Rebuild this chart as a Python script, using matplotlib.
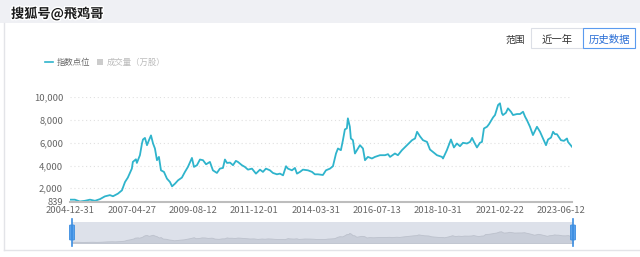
import matplotlib
matplotlib.use("Agg")
import matplotlib.pyplot as plt
import matplotlib.patheffects as pe
from matplotlib.patches import Rectangle, FancyBboxPatch
import pandas as pd

plt.rcParams['font.family'] = ['Noto Sans CJK SC', 'DejaVu Sans']

# index level
dates = [
    "2004-12-31", "2005-03-08", "2005-05-16", "2005-07-24", "2005-10-01", "2005-12-09",
    "2006-02-16", "2006-04-24", "2006-07-02", "2006-08-13", "2006-10-20", "2006-12-14",
    "2007-01-25", "2007-03-05", "2007-04-29", "2007-05-13", "2007-06-24", "2007-07-07",
    "2007-08-18", "2007-09-15", "2007-09-29", "2007-10-26", "2007-11-23", "2007-12-20",
    "2008-01-17", "2008-02-14", "2008-03-11", "2008-04-08", "2008-05-05", "2008-06-02",
    "2008-07-13", "2008-08-23", "2008-10-04", "2008-11-01", "2008-12-12", "2009-01-22",
    "2009-03-16", "2009-04-27", "2009-06-07", "2009-08-01", "2009-08-29", "2009-10-09",
    "2009-11-19", "2009-12-31", "2010-02-11", "2010-04-05", "2010-05-16", "2010-07-10",
    "2010-08-20", "2010-10-01", "2010-10-28", "2010-11-25", "2011-01-06", "2011-02-16",
    "2011-03-27", "2011-04-24", "2011-06-18", "2011-07-29", "2011-09-09", "2011-11-03",
    "2011-12-28", "2012-02-21", "2012-04-02", "2012-05-13", "2012-07-07", "2012-08-17",
    "2012-10-11", "2012-11-22", "2013-01-03", "2013-02-13", "2013-03-11", "2013-05-05",
    "2013-06-15", "2013-07-13", "2013-08-23", "2013-10-03", "2013-12-11", "2014-02-05",
    "2014-03-16", "2014-04-27", "2014-07-04", "2014-08-15", "2014-10-09", "2014-11-19",
    "2014-12-31", "2015-01-27", "2015-03-08", "2015-04-05", "2015-05-02", "2015-05-29",
    "2015-06-12", "2015-07-09", "2015-07-23", "2015-08-20", "2015-09-17", "2015-10-14",
    "2015-11-25", "2016-01-05", "2016-02-02", "2016-03-13", "2016-05-07", "2016-06-18",
    "2016-08-26", "2016-11-03", "2016-12-14", "2017-01-11", "2017-03-19", "2017-04-29",
    "2017-06-23", "2017-09-01", "2017-11-09", "2017-12-20", "2018-01-17", "2018-02-27",
    "2018-04-08", "2018-06-02", "2018-07-13", "2018-08-23", "2018-10-17", "2018-12-25",
    "2019-01-08", "2019-03-02", "2019-04-27", "2019-06-07", "2019-07-18", "2019-08-29",
    "2019-10-09", "2019-12-03", "2020-01-14", "2020-02-11", "2020-03-08", "2020-04-18",
    "2020-05-29", "2020-06-26", "2020-07-23", "2020-09-03", "2020-10-01", "2020-11-25",
    "2020-12-22", "2021-02-02", "2021-02-28", "2021-03-27", "2021-04-10", "2021-05-21",
    "2021-06-18", "2021-07-29", "2021-08-26", "2021-10-20", "2021-12-01", "2022-01-11",
    "2022-02-08", "2022-03-05", "2022-04-16", "2022-05-27", "2022-07-21", "2022-09-01",
    "2022-10-12", "2022-11-22", "2022-12-20", "2023-01-30", "2023-02-27", "2023-03-25",
    "2023-04-21", "2023-06-15", "2023-07-26", "2023-09-06", "2023-09-20", "2023-11-14",
]
values = [
    1000, 1000, 839, 900, 1000, 900,
    1050, 1290, 1400, 1300, 1530, 1820,
    2550, 2940, 3730, 4320, 4550, 4230,
    4910, 5940, 6290, 6430, 5790, 6230,
    6650, 5940, 5500, 4470, 4760, 3580,
    3440, 2850, 2550, 2170, 2410, 2700,
    2940, 3440, 3880, 4670, 3880, 4030,
    4530, 4470, 4110, 4320, 3580, 3350,
    3730, 3790, 4530, 4230, 4260, 4030,
    4410, 4320, 4030, 3880, 3640, 3730,
    3290, 3640, 3440, 3730, 3580, 3350,
    3230, 3290, 3140, 3940, 3730, 3580,
    3790, 3290, 3440, 3640, 3580, 3440,
    3230, 3230, 3170, 3580, 3730, 3940,
    5060, 5500, 5350, 6230, 7180, 7270,
    8150, 7410, 6380, 6230, 5060, 5350,
    5790, 5500, 4470, 4760, 4620, 4760,
    4910, 4910, 5000, 4760, 5060, 4910,
    5350, 5790, 6230, 6380, 6970, 6560,
    6230, 6080, 5410, 5200, 4910, 4760,
    4620, 5350, 6290, 5590, 5940, 5700,
    6000, 5940, 6080, 6430, 6080, 5590,
    6000, 6080, 7260, 7410, 7640, 8230,
    8440, 9320, 9470, 8590, 8440, 8640,
    9030, 8730, 8440, 8530, 8530, 8730,
    8290, 8000, 7410, 6680, 7410, 6970,
    6380, 5790, 6290, 6460, 6970, 6760,
    6760, 6230, 6170, 6380, 6080, 5650,
]
tick_dates = ["2004-12-31", "2007-04-27", "2009-08-12", "2011-12-01", "2014-03-31",
              "2016-07-13", "2018-10-31", "2021-02-22", "2023-06-12"]
y_ticks = [839, 2000, 4000, 6000, 8000, 10000]

x = pd.to_datetime(dates)
ticks = pd.to_datetime(tick_dates)

W, H = 640, 257
fig = plt.figure(figsize=(6.4, 2.57), dpi=100)
fig.patch.set_facecolor('white')


def fx(px):
    return px / W


def fy(py):
    return 1 - py / H


# card background, top band and borders
fig.patches.append(Rectangle((0, fy(23)), 1, 23 / H, transform=fig.transFigure,
                             facecolor='#eff0f4', edgecolor='none', zorder=0))
fig.add_artist(plt.Line2D([fx(4), fx(4)], [fy(23), fy(250)], color='#e3e4e8', lw=1))
fig.add_artist(plt.Line2D([fx(4), 1], [fy(250), fy(250)], color='#e3e4e8', lw=1))

# watermark
fig.text(fx(11), fy(14), "搜狐号@飛鸡哥", fontsize=9.5, fontweight='bold', color='#1a1a1a',
         va='center', ha='left',
         path_effects=[pe.withStroke(linewidth=2, foreground='white')])

# range buttons
fig.text(fx(515), fy(40), "范围", fontsize=7, color='#333333', ha='center', va='center')
fig.patches.append(Rectangle((fx(531), fy(48)), 52 / W, 20 / H, transform=fig.transFigure,
                             facecolor='white', edgecolor='#dcdfe6', lw=0.8))
fig.text(fx(557), fy(40), "近一年", fontsize=7.5, color='#333333', ha='center', va='center')
fig.patches.append(Rectangle((fx(583), fy(48)), 52 / W, 20 / H, transform=fig.transFigure,
                             facecolor='white', edgecolor='#5b9bef', lw=0.8))
fig.text(fx(609), fy(40), "历史数据", fontsize=7.5, color='#2b6fd6', ha='center', va='center')

# legend
fig.add_artist(plt.Line2D([fx(45), fx(53)], [fy(62), fy(62)], color='#2fb4cc', lw=1.2))
fig.text(fx(57), fy(62), "指数点位", fontsize=6, color='#666666', va='center')
fig.patches.append(Rectangle((fx(97), fy(65)), 6 / W, 6 / H, transform=fig.transFigure,
                             facecolor='#cccccc', edgecolor='none'))
fig.text(fx(107), fy(62), "成交量（万股）", fontsize=6, color='#bbbbbb', va='center')

# main chart
ax = fig.add_axes([fx(70), fy(201.5), (572 - 70) / W, (201.5 - 97.3) / H])
ax.plot(x, values, color='#2fb4cc', lw=1.3, solid_joinstyle='round')
ax.set_xlim(x[0], x[-1])
ax.set_ylim(839, 10000)
ax.set_yticks(y_ticks)
ax.set_yticklabels([f"{v:,}" for v in y_ticks])
ax.set_xticks(ticks)
ax.set_xticklabels(tick_dates)
for s in ['top', 'right', 'left']:
    ax.spines[s].set_visible(False)
ax.spines['bottom'].set_color('#bdbdbd')
ax.spines['bottom'].set_linewidth(1.5)
ax.tick_params(axis='both', length=0, labelsize=6.8, labelcolor='#666666')
ax.tick_params(axis='x', pad=3)
ax.tick_params(axis='y', pad=5)
ax.set_axisbelow(True)
for v in y_ticks[1:]:
    ax.axhline(v, color='#e0e0e0', lw=0.8, ls=(0, (1, 2.5)), zorder=0)
ax.patch.set_alpha(0)

# data zoom slider
sl = fig.add_axes([fx(72), fy(243), (573 - 72) / W, (243 - 222) / H])
sl.set_facecolor('#dde1ea')
sl.fill_between(x, 0, values, color='#c9ced9', lw=0.6, edgecolor='#bcc1cc')
sl.set_xlim(x[0], x[-1])
sl.set_ylim(0, 17000)
sl.set_xticks([])
sl.set_yticks([])
for s in sl.spines.values():
    s.set_visible(False)

for hx in (72, 573):
    fig.add_artist(plt.Line2D([fx(hx), fx(hx)], [fy(219), fy(246)], color='#3b8de0', lw=1.2))
    fig.patches.append(FancyBboxPatch((fx(hx - 2.5), fy(240)), 5 / W, 15 / H,
                                      boxstyle='round,pad=0,rounding_size=0.002',
                                      transform=fig.transFigure,
                                      facecolor='#5aa2ec', edgecolor='#3b8de0', lw=0.6))

fig.savefig("out.png", dpi=100)
